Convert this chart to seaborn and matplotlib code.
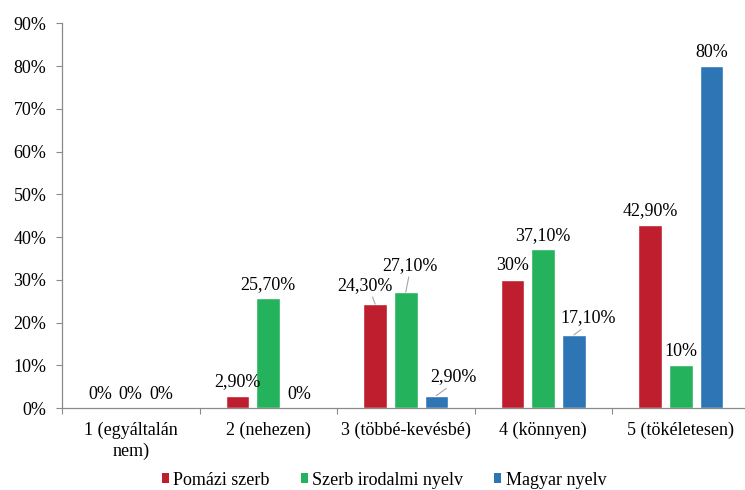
import numpy as np
import pandas as pd
import seaborn as sns
import matplotlib.pyplot as plt
from matplotlib.patches import Patch

# Survey answers: how well respondents speak each language
categories = ["1 (egyáltalán\nnem)", "2 (nehezen)", "3 (többé-kevésbé)",
              "4 (könnyen)", "5 (tökéletesen)"]
series = ["Pomázi szerb", "Szerb irodalmi nyelv", "Magyar nyelv"]
pomazi = [0, 2.9, 24.3, 30, 42.9]
irodalmi = [0, 25.7, 27.1, 37.1, 10]
magyar = [0, 0, 2.9, 17.1, 80]
y_ticks = [0, 10, 20, 30, 40, 50, 60, 70, 80, 90]

colors = ["#BE1E2D", "#24B25C", "#2E75B6"]
axis_grey = "#8A8A8A"

df = pd.DataFrame({
    "kategoria": categories * 3,
    "sorozat": [s for s in series for _ in categories],
    "ertek": pomazi + irodalmi + magyar,
})

sns.set_theme(style="white")
plt.rcParams["font.family"] = ["Liberation Serif", "DejaVu Serif"]
plt.rcParams["text.color"] = "black"

fig = plt.figure(figsize=(7.45, 4.9), dpi=100)
ax = fig.add_axes([62 / 745, 82 / 490, 687.5 / 745, 384.7 / 490])

sns.barplot(data=df, x="kategoria", y="ertek", hue="sorozat",
            order=categories, hue_order=series, palette=colors,
            saturation=1, width=0.667, gap=0.23, legend=False, ax=ax)

ax.set_xlim(-0.5, len(categories) - 0.5)
ax.set_ylim(0, 90)
ax.set_xlabel("")
ax.set_ylabel("")

ax.set_yticks(y_ticks)
ax.set_yticklabels([f"{v}%" for v in y_ticks], fontsize=13, color="black")
ax.tick_params(axis="y", length=4.3, width=0.8, color=axis_grey, pad=7,
               left=True)

ax.set_xticks(range(len(categories)))
ax.set_xticklabels(categories, fontsize=13, color="black", linespacing=1.3)
ax.tick_params(axis="x", which="major", length=0, pad=10)
ax.set_xticks(np.arange(-0.5, len(categories)), minor=True)
ax.tick_params(axis="x", which="minor", length=4.3, width=0.8,
               color=axis_grey, bottom=True)

for side in ("top", "right"):
    ax.spines[side].set_visible(False)
for side in ("left", "bottom"):
    ax.spines[side].set_color(axis_grey)
    ax.spines[side].set_linewidth(0.9)


def fmt(v):
    if float(v).is_integer():
        return f"{int(v)}%"
    return f"{v:.2f}".replace(".", ",") + "%"


# Labels that are pushed aside from their bars get a leader line
moved = {
    (0, 2): (-10, 19, 0.6),
    (1, 2): (4, 27, 0.5),
    (2, 2): (17, 19, 0.5),
    (2, 3): (14, 17, 0.5),
}

values = [pomazi, irodalmi, magyar]
for si, container in enumerate(ax.containers):
    for ci, bar in enumerate(container):
        v = values[si][ci]
        x = bar.get_x() + bar.get_width() / 2
        top = bar.get_height()
        if (si, ci) in moved:
            dx, dy, rx = moved[(si, ci)]
            ax.annotate(fmt(v), xy=(x, top), xytext=(dx, dy),
                        textcoords="offset pixels", ha="center", va="center",
                        fontsize=13,
                        arrowprops=dict(arrowstyle="-", color="#A6A6A6",
                                        lw=0.8, relpos=(rx, 0.1),
                                        shrinkA=0, shrinkB=0))
        else:
            ax.annotate(fmt(v), xy=(x, top), xytext=(0, 14),
                        textcoords="offset pixels", ha="center", va="center",
                        fontsize=13)

handles = [Patch(facecolor=c, edgecolor="none") for c in colors]
fig.legend(handles, series, loc="center", bbox_to_anchor=(384 / 745, 10 / 490),
           ncol=3, frameon=False, fontsize=13, handlelength=0.4,
           handleheight=0.4, handletextpad=0.25, columnspacing=1.7)

fig.savefig("out.png", dpi=100)
